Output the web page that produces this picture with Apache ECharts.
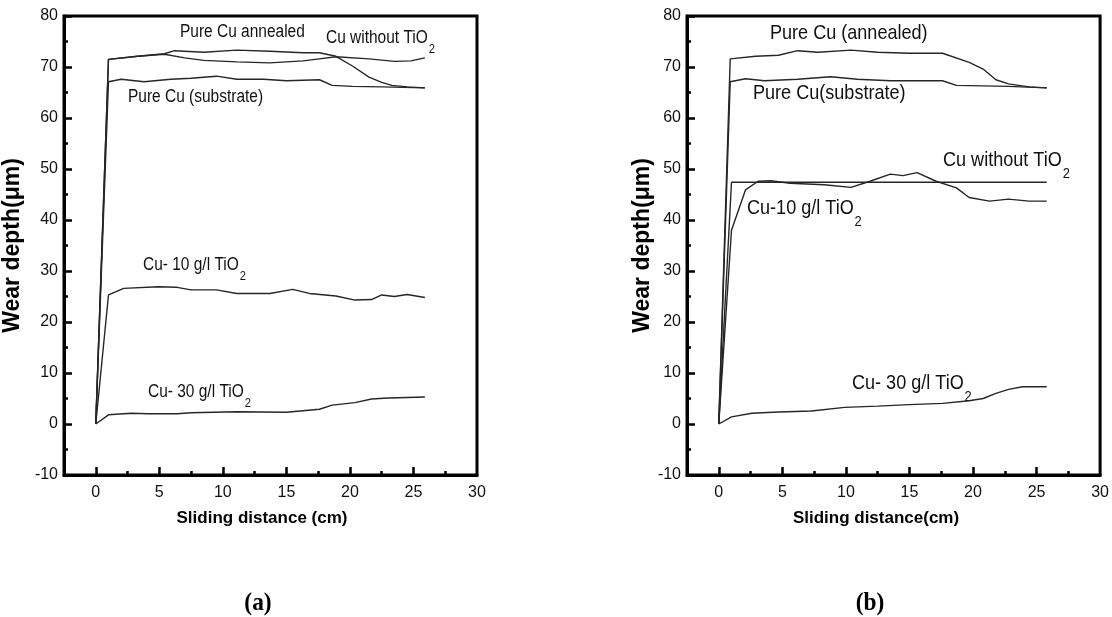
<!DOCTYPE html>
<html>
<head>
<meta charset="utf-8">
<script src="https://cdn.jsdelivr.net/npm/echarts@6/dist/echarts.min.js"></script>
<style>
  html, body { margin: 0; padding: 0; background: #fff; }
  #chart { width: 1112px; height: 617px; }
</style>
</head>
<body>
<div id="chart"></div>
<script>
// ---- Panel (a): wear depth (µm) vs sliding distance (cm) ----
const annealedA_x  = [0, 1.0, 3.3, 5.4, 6.2, 8.5, 11.1, 13.7, 16.3, 17.6, 18.9, 20.2, 21.5, 22.5, 23.3, 24.5, 25.9];
const annealedA_y  = [0, 71.5, 72.1, 72.6, 73.2, 72.9, 73.3, 73.1, 72.8, 72.8, 72.1, 70.2, 68.0, 67.0, 66.4, 66.1, 65.9];
const noTiO2A_x    = [0, 1.0, 3.3, 5.4, 7.0, 8.5, 11.1, 13.7, 16.3, 17.6, 18.9, 21.5, 23.5, 24.8, 25.9];
const noTiO2A_y    = [0, 71.5, 72.1, 72.5, 71.8, 71.3, 71.0, 70.8, 71.2, 71.6, 72.0, 71.6, 71.1, 71.2, 71.8];
const substrateA_x = [0, 1.0, 2.0, 3.8, 5.9, 7.5, 9.5, 11.1, 13.2, 15.0, 17.6, 18.6, 20.2, 22.5, 25.9];
const substrateA_y = [0, 67.1, 67.6, 67.1, 67.6, 67.8, 68.2, 67.6, 67.6, 67.3, 67.5, 66.4, 66.2, 66.1, 65.9];
const tio10A_x     = [0, 1.0, 2.2, 4.9, 6.4, 7.5, 9.5, 11.1, 13.7, 15.5, 16.8, 18.9, 20.4, 21.7, 22.5, 23.5, 24.5, 25.9];
const tio10A_y     = [0, 25.3, 26.6, 26.9, 26.8, 26.3, 26.3, 25.6, 25.6, 26.4, 25.6, 25.1, 24.3, 24.4, 25.3, 25.0, 25.4, 24.8];
const tio30A_x     = [0, 1.0, 2.8, 4.1, 6.4, 7.5, 11.1, 15.0, 17.6, 18.6, 20.4, 21.7, 23.0, 24.5, 25.9];
const tio30A_y     = [0, 1.8, 2.1, 2.0, 2.0, 2.2, 2.4, 2.3, 2.9, 3.7, 4.2, 4.9, 5.1, 5.2, 5.3];

// ---- Panel (b) ----
const annealedB_x  = [0, 0.9, 2.9, 4.7, 6.2, 7.8, 10.4, 12.5, 15.0, 17.6, 19.7, 20.8, 21.8, 22.8, 24.4, 25.8];
const annealedB_y  = [0, 71.6, 72.1, 72.3, 73.2, 72.9, 73.3, 72.9, 72.7, 72.7, 70.9, 69.6, 67.5, 66.7, 66.1, 65.9];
const substrateB_x = [0, 0.9, 2.1, 3.6, 6.2, 8.8, 10.9, 13.5, 17.6, 18.7, 22.8, 25.8];
const substrateB_y = [0, 67.1, 67.7, 67.3, 67.6, 68.1, 67.6, 67.3, 67.3, 66.4, 66.2, 65.9];
const noTiO2B_x    = [0, 1.0, 25.8];
const noTiO2B_y    = [0, 47.4, 47.4];
const tio10B_x     = [0, 1.0, 2.1, 3.1, 4.1, 5.6, 8.3, 10.4, 11.9, 13.5, 14.5, 15.6, 17.1, 18.7, 19.7, 21.3, 22.8, 24.4, 25.8];
const tio10B_y     = [0, 38.0, 45.9, 47.6, 47.7, 47.2, 46.9, 46.4, 47.6, 49.0, 48.7, 49.3, 47.6, 46.3, 44.4, 43.7, 44.1, 43.7, 43.7];
const tio30B_x     = [0, 1.0, 2.6, 4.7, 7.3, 9.9, 12.5, 15.0, 17.6, 19.7, 20.8, 21.8, 22.8, 23.9, 25.8];
const tio30B_y     = [0, 1.4, 2.1, 2.35, 2.55, 3.26, 3.5, 3.8, 4.05, 4.57, 5.0, 6.0, 6.8, 7.3, 7.3];

// ---- Axis ticks and labels ----
const xLabelValues = [0, 5, 10, 15, 20, 25, 30];
const xMajorTicks  = [0, 5, 10, 15, 20, 25];
const xMinorTicks  = [2.5, 7.5, 12.5, 17.5, 22.5, 27.5];

const SANS = "'Liberation Sans', Arial, sans-serif";
const SERIF = "'Liberation Serif', 'Times New Roman', serif";
const INK = '#111';
const LINE = '#262626';
const CONDENSE = 0.86;   // horizontal squeeze for the condensed caption lettering

const zip = (xs, ys) => xs.map((x, i) => [x, ys[i]]);

function mainX(grid) {
  return {
    type: 'value', gridIndex: grid, min: -2.5, max: 30, position: 'bottom',
    axisLine: { show: true, onZero: false, lineStyle: { color: '#000', width: 3 } },
    axisTick: { show: true, inside: true, length: 8, customValues: xMajorTicks, lineStyle: { color: '#000', width: 2.5 } },
    axisLabel: { customValues: xLabelValues, fontFamily: SANS, fontSize: 16, color: INK, margin: 10 },
    splitLine: { show: false }
  };
}
function minorX(grid) {
  return {
    type: 'value', gridIndex: grid, min: -2.5, max: 30, position: 'bottom',
    axisLine: { show: false, onZero: false },
    axisTick: { show: true, inside: true, length: 4, customValues: xMinorTicks, lineStyle: { color: '#000', width: 2.5 } },
    axisLabel: { show: false },
    splitLine: { show: false }
  };
}
function mainY(grid, gap) {
  return {
    type: 'value', gridIndex: grid, min: -10, max: 80, interval: 10,
    name: 'Wear depth(\u03bcm)', nameLocation: 'middle', nameRotate: 90, nameGap: gap,
    nameTextStyle: { fontFamily: SANS, fontWeight: 'bold', fontSize: 23, color: '#000' },
    axisLine: { show: true, onZero: false, lineStyle: { color: '#000', width: 3 } },
    axisTick: { show: true, inside: true, length: 8, lineStyle: { color: '#000', width: 2.5 } },
    minorTick: { show: true, splitNumber: 2, length: 4, lineStyle: { color: '#000', width: 2.5 } },
    axisLabel: { fontFamily: SANS, fontSize: 16, color: INK, margin: 6 },
    splitLine: { show: false }
  };
}

function trace(xi, yi, pts) {
  return {
    type: 'line', xAxisIndex: xi, yAxisIndex: yi, data: pts,
    showSymbol: false, symbol: 'none', smooth: false,
    lineStyle: { color: LINE, width: 1.4 }, emphasis: { disabled: true }, silent: true
  };
}

// Curve caption (left edge at x, vertically centred on y) with a lowered subscript "2"
function caption(x, y, main, sub, size) {
  const subSize = Math.round(size * 0.7);
  const drop = Math.round(size * 1.3);
  return {
    type: 'text', x: x, y: y, scaleX: CONDENSE, silent: true,
    style: {
      text: sub ? '{m|' + main + '}{s|' + sub + '}' : '{m|' + main + '}',
      align: 'left', verticalAlign: 'middle',
      rich: {
        m: { fontFamily: SANS, fontSize: size, fill: INK },
        s: { fontFamily: SANS, fontSize: subSize, fill: INK, padding: [drop, 0, 0, 1] }
      }
    }
  };
}
function plain(cx, cy, text, font, size, weight, sx) {
  return {
    type: 'text', x: cx, y: cy, scaleX: sx || 1, silent: true,
    style: { text: text, fontFamily: font, fontSize: size, fontWeight: weight, fill: '#000', align: 'center', verticalAlign: 'middle' }
  };
}

const chart = echarts.init(document.getElementById('chart'), null, { renderer: 'canvas' });
chart.setOption({
  animation: false,
  backgroundColor: '#fff',
  grid: [
    { left: 58, top: 16, width: 419, height: 459, show: true, borderColor: '#000', borderWidth: 3, backgroundColor: 'transparent' },
    { left: 687, top: 16, width: 419, height: 459, show: true, borderColor: '#000', borderWidth: 3, backgroundColor: 'transparent' }
  ],
  xAxis: [mainX(0), minorX(0), mainX(1), minorX(1)],
  yAxis: [mainY(0, 40), mainY(1, 31)],
  series: [
    trace(0, 0, zip(annealedA_x, annealedA_y)),
    trace(0, 0, zip(noTiO2A_x, noTiO2A_y)),
    trace(0, 0, zip(substrateA_x, substrateA_y)),
    trace(0, 0, zip(tio10A_x, tio10A_y)),
    trace(0, 0, zip(tio30A_x, tio30A_y)),
    trace(2, 1, zip(annealedB_x, annealedB_y)),
    trace(2, 1, zip(substrateB_x, substrateB_y)),
    trace(2, 1, zip(noTiO2B_x, noTiO2B_y)),
    trace(2, 1, zip(tio10B_x, tio10B_y)),
    trace(2, 1, zip(tio30B_x, tio30B_y))
  ],
  graphic: [
    caption(180, 32, 'Pure Cu annealed', '', 18),
    caption(326, 38, 'Cu without TiO', '2', 18),
    caption(128, 97, 'Pure Cu (substrate)', '', 18),
    caption(143, 265, 'Cu- 10 g/l TiO', '2', 18),
    caption(148, 392, 'Cu- 30 g/l TiO', '2', 18),
    caption(770, 33, 'Pure Cu (annealed)', '', 21),
    caption(753, 93, 'Pure Cu(substrate)', '', 21),
    caption(943, 160, 'Cu without TiO', '2', 21),
    caption(747, 208, 'Cu-10 g/l TiO', '2', 21),
    caption(852, 383, 'Cu- 30 g/l TiO', '2', 21),
    plain(262, 518, 'Sliding distance (cm)', SANS, 17, 'bold'),
    plain(876, 518, 'Sliding distance(cm)', SANS, 17, 'bold'),
    plain(258, 603, '(a)', SERIF, 26, 'bold', 0.9),
    plain(870, 603, '(b)', SERIF, 26, 'bold', 0.9)
  ]
});
</script>
</body>
</html>
